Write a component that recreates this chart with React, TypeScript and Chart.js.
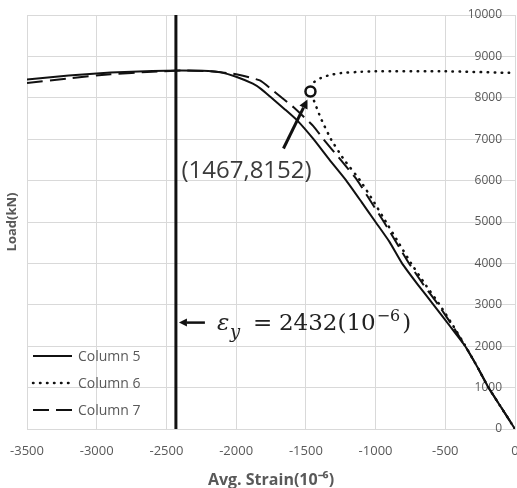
import React, { useEffect, useRef } from 'react';
import { Chart, registerables } from 'chart.js';

Chart.register(...registerables);

// ---- Data ----
const strainCol5 = [-3500, -3200, -2900, -2600, -2400, -2200, -2115, -2000, -1880, -1820, -1757, -1650, -1564, -1445, -1330, -1210, -1100, -1000, -900, -810, -700, -584, -470, -357, -270, -190, -95, 0];
const loadCol5 = [8440, 8540, 8610, 8650, 8660, 8650, 8620, 8510, 8340, 8210, 8030, 7720, 7460, 7000, 6500, 6000, 5480, 5000, 4520, 4000, 3500, 3000, 2500, 2000, 1500, 1000, 500, 0];

const strainCol6 = [0, -95, -190, -270, -355, -445, -540, -645, -745, -835, -925, -1015, -1110, -1225, -1320, -1392, -1450, -1467, -1440, -1394, -1330, -1250, -1100, -1000, -500, 0];
const loadCol6 = [0, 500, 1000, 1500, 2000, 2500, 3000, 3500, 4000, 4500, 5000, 5500, 6000, 6500, 7000, 7500, 8000, 8152, 8380, 8475, 8550, 8596, 8630, 8640, 8640, 8600];

const strainCol7 = [-3500, -3200, -2900, -2600, -2400, -2200, -2020, -1830, -1730, -1588, -1445, -1374, -1250, -1130, -1035, -940, -850, -760, -660, -550, -450, -357, -270, -190, -95, 0];
const loadCol7 = [8360, 8470, 8570, 8630, 8660, 8645, 8580, 8420, 8160, 7770, 7310, 7000, 6500, 6000, 5500, 5000, 4500, 4000, 3500, 3000, 2500, 2000, 1500, 1000, 500, 0];

const seriesNames = ['Column 5', 'Column 6', 'Column 7'];
const yieldStrain = [-2432, -2432];
const yieldLoad = [0, 10000];
const calloutStrain = [-1467];
const calloutLoad = [8152];

const xMin = -3500, xMax = 0, xStep = 500;
const yMin = 0, yMax = 10000, yStep = 1000;
const xTitle = 'Avg. Strain(10⁻⁶)';
const yTitle = 'Load(kN)';

const toPoints = (xs: number[], ys: number[]) => xs.map((x, i) => ({ x, y: ys[i] }));

const GRID = '#d9d9d9';
const TEXT = '#595959';
const INK = '#111111';

function drawArrow(ctx: CanvasRenderingContext2D, x1: number, y1: number, x2: number, y2: number, head: number, halfW: number, lw: number, color: string) {
  const ang = Math.atan2(y2 - y1, x2 - x1);
  const bx = x2 - head * Math.cos(ang);
  const by = y2 - head * Math.sin(ang);
  ctx.save();
  ctx.strokeStyle = color;
  ctx.fillStyle = color;
  ctx.lineWidth = lw;
  ctx.setLineDash([]);
  ctx.beginPath();
  ctx.moveTo(x1, y1);
  ctx.lineTo(bx, by);
  ctx.stroke();
  ctx.beginPath();
  ctx.moveTo(x2, y2);
  ctx.lineTo(bx + halfW * Math.sin(ang), by - halfW * Math.cos(ang));
  ctx.lineTo(bx - halfW * Math.sin(ang), by + halfW * Math.cos(ang));
  ctx.closePath();
  ctx.fill();
  ctx.restore();
}

const overlayPlugin = {
  id: 'overlay',
  afterDatasetsDraw(chart: any) {
    const { ctx, scales } = chart;
    const xs = scales.x;
    const ys = scales.y;

    // callout for the peak of Column 6
    const px = xs.getPixelForValue(calloutStrain[0]);
    const py = ys.getPixelForValue(calloutLoad[0]);
    drawArrow(ctx, px - 27, py + 57, px - 3, py + 8, 9, 4.5, 3, INK);
    ctx.save();
    ctx.font = "24px 'Open Sans'";
    ctx.fillStyle = '#3a3a3a';
    ctx.textAlign = 'left';
    ctx.textBaseline = 'middle';
    ctx.fillText(`(${-calloutStrain[0]},${calloutLoad[0]})`, px - 129, py + 80);
    ctx.restore();

    // yield strain label
    const vx = xs.getPixelForValue(yieldStrain[0]);
    const ay = ys.getPixelForValue(2570);
    drawArrow(ctx, vx + 29, ay, vx + 3, ay, 8, 4, 2.5, INK);
    const base = ay + 7;
    const t0 = vx + 3;
    ctx.save();
    ctx.textAlign = 'left';
    ctx.textBaseline = 'alphabetic';
    ctx.fillStyle = '#222222';
    ctx.font = "italic 23px 'DejaVu Serif'";
    ctx.fillText('ε', t0 + 38, base);
    ctx.font = "italic 18px 'DejaVu Serif'";
    ctx.fillText('y', t0 + 51, base + 8);
    ctx.font = "23px 'DejaVu Serif'";
    ctx.fillText('=', t0 + 74, base);
    const main = `${-yieldStrain[0]}(10`;
    ctx.fillText(main, t0 + 100, base);
    let cx = t0 + 100 + ctx.measureText(main).width + 1;
    ctx.font = "16px 'DejaVu Serif'";
    ctx.fillText('−6', cx, base - 9);
    cx += ctx.measureText('−6').width + 2;
    ctx.font = "23px 'DejaVu Serif'";
    ctx.fillText(')', cx, base);
    ctx.restore();
  },
  afterDraw(chart: any) {
    const { ctx, chartArea: a } = chart;
    const items = chart.data.datasets.filter((d: any) => seriesNames.includes(d.label));
    items.forEach((d: any, i: number) => {
      const y = a.bottom - 73 + 27 * i;
      ctx.save();
      ctx.strokeStyle = d.borderColor;
      ctx.lineWidth = d.borderWidth;
      ctx.setLineDash(d.borderDash || []);
      ctx.lineCap = d.borderCapStyle || 'butt';
      ctx.beginPath();
      ctx.moveTo(a.left + 6, y);
      ctx.lineTo(a.left + 45, y);
      ctx.stroke();
      ctx.setLineDash([]);
      ctx.font = "14px 'Open Sans'";
      ctx.fillStyle = TEXT;
      ctx.textAlign = 'left';
      ctx.textBaseline = 'middle';
      ctx.fillText(d.label, a.left + 51, y + 1);
      ctx.restore();
    });
  },
};

export default function App() {
  const ref = useRef<HTMLCanvasElement>(null);

  useEffect(() => {
    document.body.style.margin = '0';
    Chart.defaults.font.family = "'Open Sans', sans-serif";
    Chart.defaults.color = TEXT;

    const chart = new Chart(ref.current as HTMLCanvasElement, {
      type: 'scatter',
      data: {
        datasets: [
          {
            label: 'callout',
            data: toPoints(calloutStrain, calloutLoad),
            showLine: false,
            pointRadius: 5,
            pointBackgroundColor: '#ffffff',
            pointBorderColor: INK,
            pointBorderWidth: 2.5,
          },
          {
            label: seriesNames[0],
            data: toPoints(strainCol5, loadCol5),
            showLine: true,
            borderColor: INK,
            borderWidth: 2,
            pointRadius: 0,
            tension: 0.15,
          },
          {
            label: seriesNames[1],
            data: toPoints(strainCol6, loadCol6),
            showLine: true,
            borderColor: INK,
            borderWidth: 2.5,
            borderDash: [0.5, 6.5],
            borderCapStyle: 'round',
            pointRadius: 0,
            tension: 0.15,
          },
          {
            label: seriesNames[2],
            data: toPoints(strainCol7, loadCol7),
            showLine: true,
            borderColor: INK,
            borderWidth: 2,
            borderDash: [16, 7],
            pointRadius: 0,
            tension: 0.15,
          },
          {
            label: 'yield',
            data: toPoints(yieldStrain, yieldLoad),
            showLine: true,
            borderColor: INK,
            borderWidth: 3,
            pointRadius: 0,
          },
        ],
      } as any,
      options: {
        animation: false,
        responsive: false,
        maintainAspectRatio: false,
        layout: { autoPadding: false, padding: { top: 15, left: 0, right: 0, bottom: 0 } },
        plugins: {
          legend: { display: false },
          tooltip: { enabled: false },
        },
        scales: {
          x: {
            type: 'linear',
            position: 'bottom',
            min: xMin,
            max: xMax,
            ticks: { stepSize: xStep, padding: 14, color: TEXT, font: { size: 13 }, callback: (v: any) => String(v) },
            grid: { color: GRID, drawTicks: false },
            border: { color: GRID },
            title: {
              display: true,
              text: xTitle,
              color: TEXT,
              font: { size: 16, weight: 'bold', lineHeight: 1 },
              padding: { top: 0, bottom: 0 },
            },
            afterFit: (s: any) => {
              s.height = 59;
              s.paddingLeft = 0;
              s.paddingRight = 0;
            },
          },
          y: {
            type: 'linear',
            position: 'right',
            min: yMin,
            max: yMax,
            ticks: { stepSize: yStep, mirror: true, padding: -13, color: TEXT, font: { size: 12 }, callback: (v: any) => String(v) },
            grid: { color: GRID, drawTicks: false },
            border: { color: GRID },
            afterFit: (s: any) => {
              s.width = 2;
            },
          },
          yTitle: {
            type: 'linear',
            position: 'left',
            ticks: { display: false },
            grid: { display: false },
            border: { display: false },
            title: {
              display: true,
              text: yTitle,
              color: TEXT,
              font: { size: 13, weight: 'bold' },
              padding: { top: 4, bottom: 0 },
            },
            afterFit: (s: any) => {
              s.width = 27;
            },
          },
        },
      } as any,
      plugins: [overlayPlugin],
    });
    return () => chart.destroy();
  }, []);

  return (
    <div style={{ width: 517, height: 488 }}>
      <canvas ref={ref} width={517} height={488} style={{ display: 'block' }} />
    </div>
  );
}
